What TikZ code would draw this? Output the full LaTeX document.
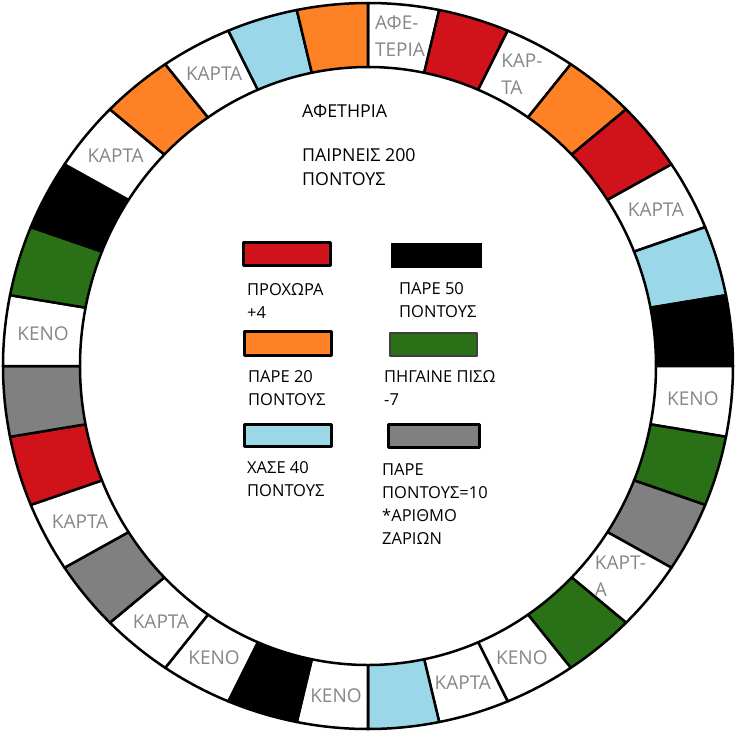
\documentclass[tikz,border=0pt]{standalone}
\usepackage{fontspec}
\setmainfont{Open Sans}
\definecolor{BoardRed}{HTML}{D0121A}
\definecolor{BoardOrange}{HTML}{FE8126}
\definecolor{BoardBlue}{HTML}{99D7E9}
\definecolor{BoardGreen}{HTML}{2A7016}
\definecolor{BoardGray}{HTML}{808080}
\definecolor{EdgeGray}{HTML}{404040}
\definecolor{LabelGray}{HTML}{878787}

\begin{document}
\begin{tikzpicture}[x=1pt,y=1pt,line join=round,
  cell/.style={text=LabelGray,font=\fontsize{19}{27}\selectfont,align=left,inner sep=0pt},
  legend/.style={font=\fontsize{16.5}{23}\selectfont,align=left,anchor=west,inner sep=0pt},
  swatch/.style={draw,line width=3pt,minimum width=87,minimum height=23,inner sep=0pt}]
  \useasboundingbox (-368,-366) rectangle (368,366);
  % board ring, 32 cells clockwise from the start cell
  \foreach \c [count=\i from 0] in {white,BoardRed,white,BoardOrange,BoardRed,white,BoardBlue,black,
      white,BoardGreen,BoardGray,white,BoardGreen,white,white,BoardBlue,
      white,black,white,white,BoardGray,white,BoardRed,BoardGray,
      white,BoardGreen,black,white,BoardOrange,white,BoardBlue,BoardOrange}{
    \pgfmathsetmacro\a{90-11.25*\i} \pgfmathsetmacro\b{\a-11.25}
    \filldraw[fill=\c,line width=2.5pt] (\a:365 and 363) arc[start angle=\a,end angle=\b,x radius=365,y radius=363]
      -- (\b:288 and 299) arc[start angle=\b,end angle=\a,x radius=288,y radius=299] -- cycle;
  }
  \foreach \i/\t in {0/{ΑΦΕ-\\ΤΕΡΙΑ},2/{ΚΑΡ-\\ΤΑ},5/ΚΑΡΤΑ,8/ΚΕΝΟ,11/{ΚΑΡΤ-\\Α},13/ΚΕΝΟ,14/ΚΑΡΤΑ,
      16/ΚΕΝΟ,18/ΚΕΝΟ,19/ΚΑΡΤΑ,21/ΚΑΡΤΑ,24/ΚΕΝΟ,27/ΚΑΡΤΑ,29/ΚΑΡΤΑ}
    \node[cell] (cell\i) at ({90-11.25*(\i+.5)}:326.5 and 331) {\t};
  % start text
  \node[legend,font=\fontsize{17.8}{23.5}\selectfont] (start) at (-66,254.5) {ΑΦΕΤΗΡΙΑ};
  \node[legend,font=\fontsize{17.8}{23.5}\selectfont] (bonus) at (-66,199) {ΠΑΙΡΝΕΙΣ 200\\ΠΟΝΤΟΥΣ};
  % legend
  \node[swatch,fill=BoardRed] (swRed) at (-80.5,112) {};
  \node[swatch,fill=black,draw=none,minimum width=91,minimum height=25] (swBlack) at (68.5,110.5) {};
  \node[swatch,fill=BoardOrange,minimum height=24] (swOrange) at (-80,22.5) {};
  \node[swatch,fill=BoardGreen,draw=EdgeGray,line width=1.5pt] (swGreen) at (65.5,21.5) {};
  \node[swatch,fill=BoardBlue,minimum height=22] (swBlue) at (-80,-69.5) {};
  \node[swatch,fill=BoardGray,minimum width=91] (swGray) at (66,-70) {};
  \node[legend] (txtRed) at (-121,64.5) {ΠΡΟΧΩΡΑ\\+4};
  \node[legend] (txtBlack) at (31,65.5) {ΠΑΡΕ 50\\ΠΟΝΤΟΥΣ};
  \node[legend] (txtOrange) at (-120,-22.5) {ΠΑΡΕ 20\\ΠΟΝΤΟΥΣ};
  \node[legend] (txtGreen) at (16,-22.5) {ΠΗΓΑΙΝΕ ΠΙΣΩ\\-7};
  \node[legend] (txtBlue) at (-121,-113.5) {ΧΑΣΕ 40\\ΠΟΝΤΟΥΣ};
  \node[legend] (txtGray) at (14,-138) {ΠΑΡΕ\\ΠΟΝΤΟΥΣ=10\\*ΑΡΙΘΜΟ\\ΖΑΡΙΩΝ};
\end{tikzpicture}
\end{document}
